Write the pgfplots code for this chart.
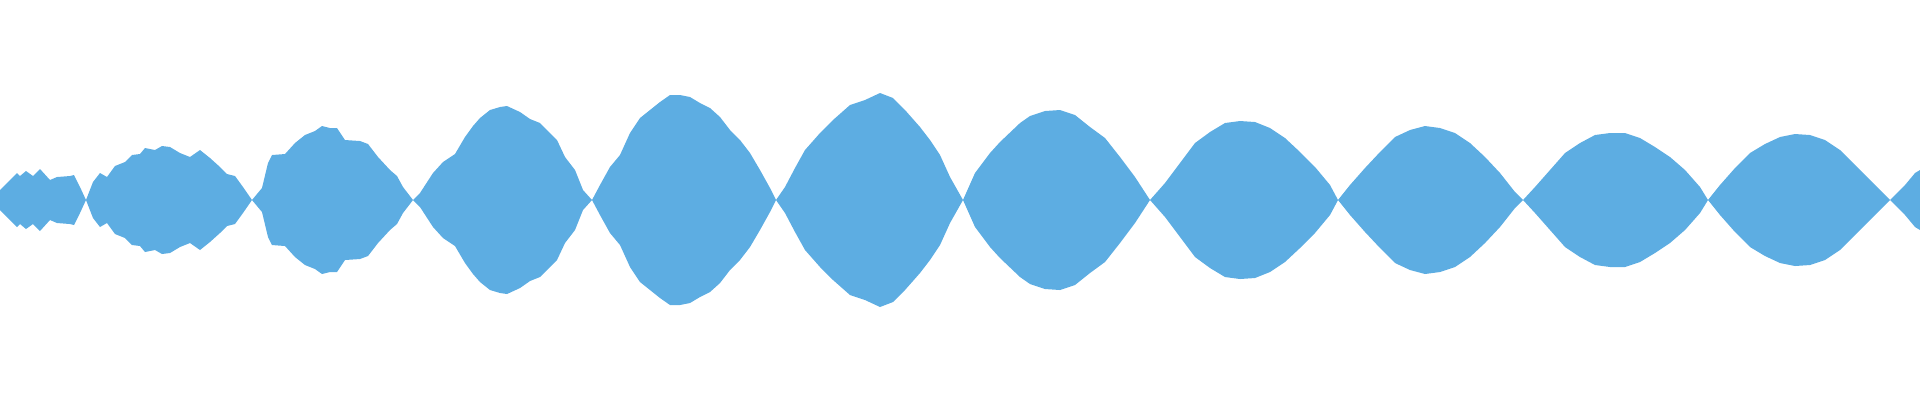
\documentclass[border=0pt]{standalone}
\usepackage{pgfplots}
\usepackage{pgfplotstable}
\pgfplotsset{compat=1.18}
\usepgfplotslibrary{fillbetween}
\definecolor{wave}{RGB}{93,173,226}

% envelope of the waveform: x in pixels, half amplitude a
\pgfplotstableread{
x a
0 10
5 15
10 20
17 27
20 24
26 29
33 24
40 31
50 20
57 23
70 24
74 25
80 13
86 0
93 18
100 27
107 23
115 34
125 38
132 45
140 46
145 52
155 50
162 54
170 53
180 47
190 43
200 50
210 42
220 33
227 26
235 24
243 13
252 0
262 12
268 37
272 45
285 46
295 57
305 65
315 69
322 74
330 72
337 72
345 60
360 59
368 56
378 43
390 30
397 24
403 13
413 0
420 7
433 27
443 38
455 46
465 63
473 74
480 82
490 90
500 93
507 94
520 88
530 81
540 77
550 67
557 60
565 43
575 30
583 10
592 0
600 15
610 33
620 45
630 67
640 82
650 90
660 98
670 105
680 105
690 103
700 97
710 92
720 83
730 70
740 60
750 47
760 30
770 12
776 0
785 13
795 32
805 50
820 67
833 80
850 95
865 100
880 107
893 102
905 90
920 73
930 60
940 45
950 23
963 0
975 27
990 47
1000 58
1020 77
1030 84
1045 89
1060 90
1075 85
1090 73
1105 62
1120 43
1135 23
1150 0
1165 17
1180 37
1195 57
1210 68
1225 77
1240 79
1255 78
1270 72
1285 62
1300 48
1315 33
1330 15
1338 0
1350 15
1365 32
1380 48
1395 63
1410 70
1425 74
1440 72
1455 67
1470 57
1485 43
1500 27
1515 8
1523 0
1535 13
1550 30
1565 47
1580 57
1595 65
1610 67
1625 67
1640 62
1655 53
1670 43
1685 30
1700 13
1708 0
1720 15
1735 32
1750 47
1765 56
1780 63
1795 66
1810 65
1825 60
1840 50
1855 35
1870 20
1883 7
1890 0
1905 15
1915 27
1920 30
}\wave

\begin{document}
\begin{tikzpicture}
\path (0,0) rectangle (19.2cm,4cm);
\begin{axis}[
    at={(0,0)}, anchor=south west,
    scale only axis,
    width=19.2cm, height=4cm,
    xmin=0, xmax=1920,
    ymin=-200, ymax=200,
    hide axis
]
\addplot[name path=up, draw=none] table[x=x, y=a] {\wave};
\addplot[name path=lo, draw=none] table[x=x, y expr=-\thisrow{a}] {\wave};
\addplot[fill=wave, draw=none] fill between[of=up and lo];
\end{axis}
\end{tikzpicture}
\end{document}
